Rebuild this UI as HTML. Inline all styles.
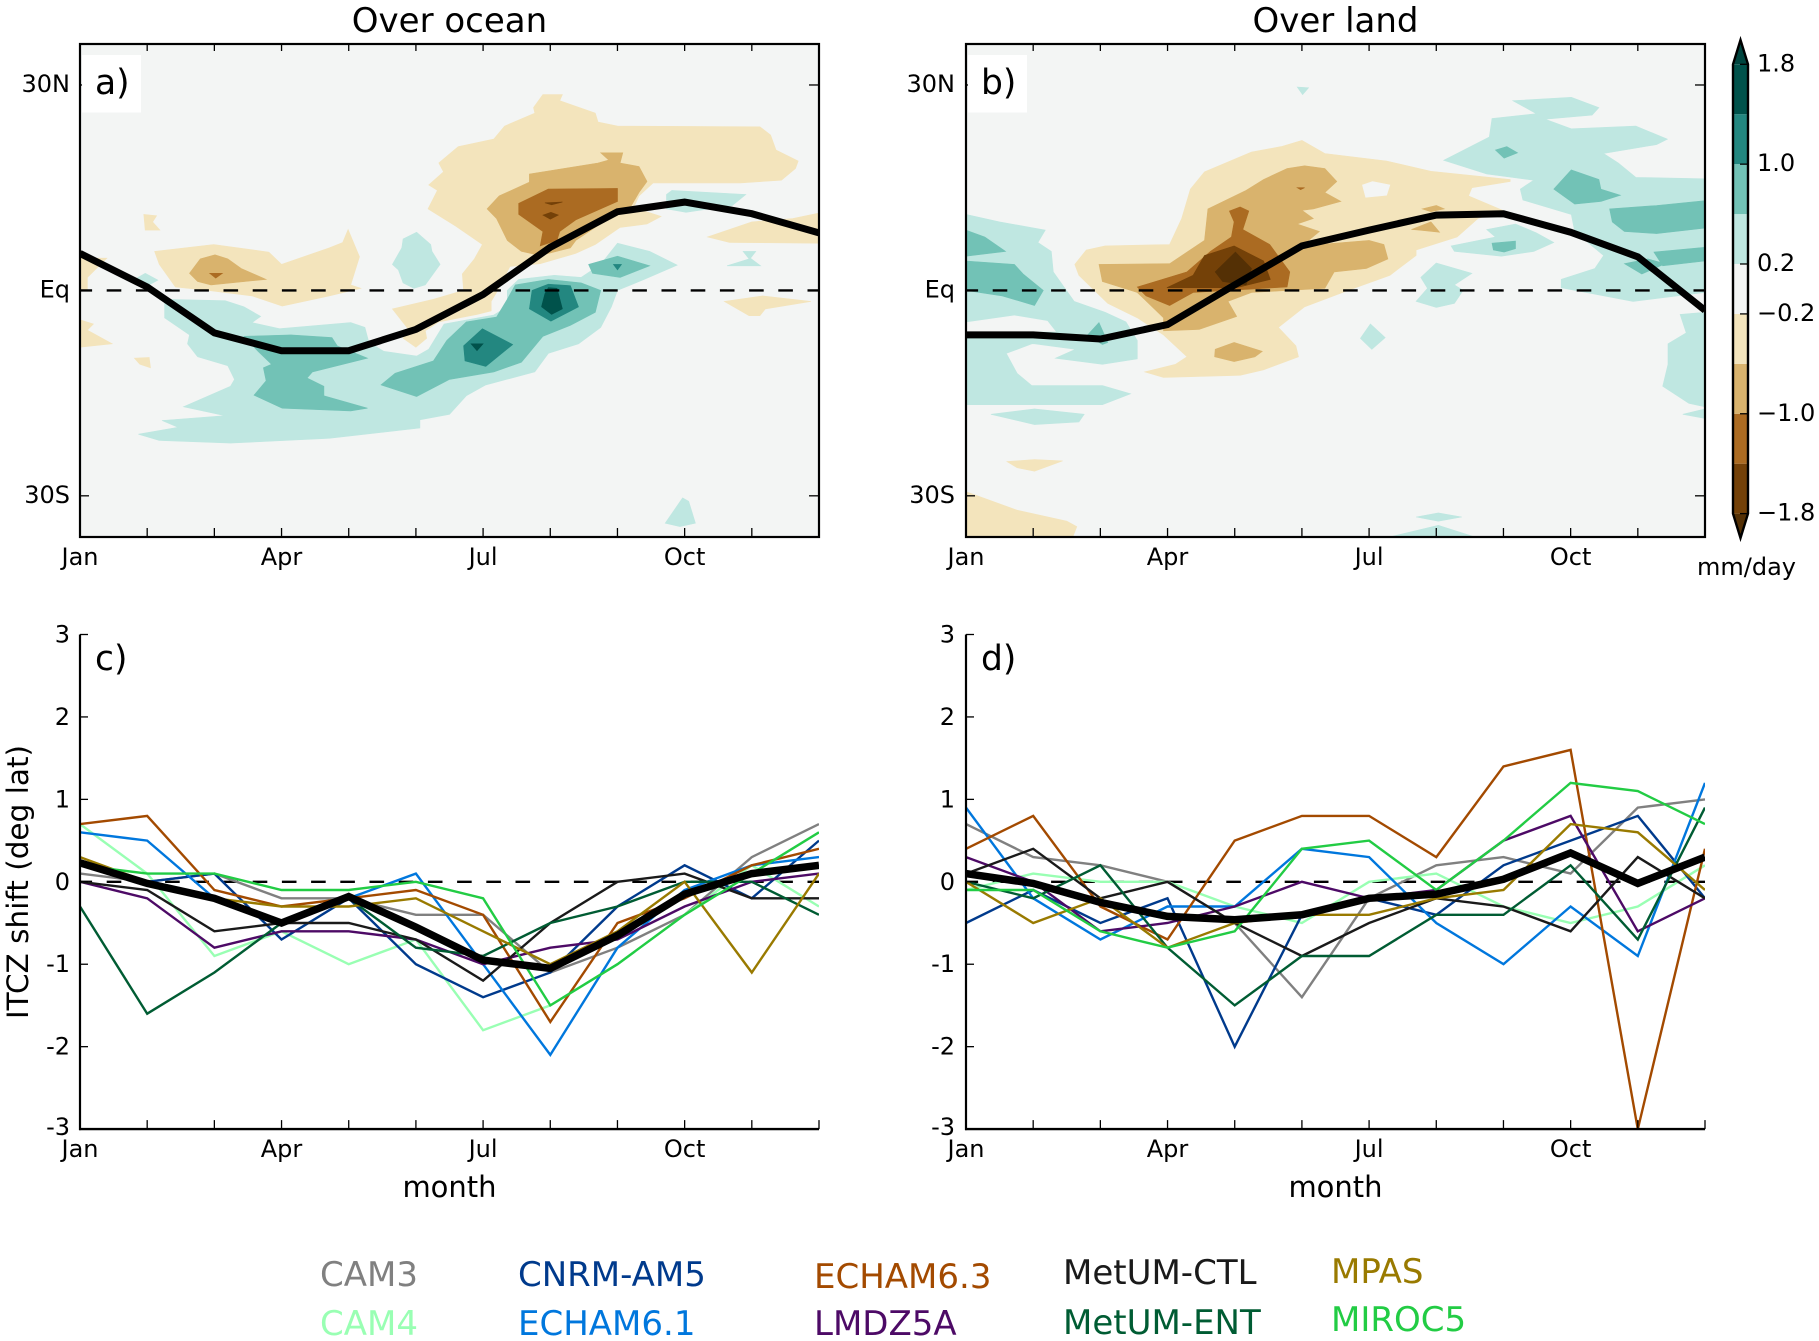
<!DOCTYPE html>
<html lang="en">
<head>
<meta charset="utf-8">
<title>ITCZ shift over ocean and land</title>
<style>
html,body{margin:0;padding:0;background:#fff;}
svg{display:block;}
text{font-family:"DejaVu Sans","Liberation Sans",sans-serif;fill:#000;}
</style>
</head>
<body>
<svg id="fig" xmlns="http://www.w3.org/2000/svg" width="1819" height="1341" viewBox="0 0 1819 1341">
  <rect x="0" y="0" width="1819" height="1341" fill="#ffffff"/>
  <defs>
    <clipPath id="clip-left"><rect x="80" y="44" width="739" height="493"/></clipPath>
    <clipPath id="clip-right"><rect x="966" y="44" width="739" height="493"/></clipPath>
    <clipPath id="clip-c"><rect x="80" y="634" width="739" height="495"/></clipPath>
    <clipPath id="clip-d"><rect x="966" y="634" width="739" height="495"/></clipPath>
  </defs>
  <g id="layer"></g>
  <text x="449.5" y="32" font-size="34" text-anchor="middle">Over ocean</text>
  <text x="1335.5" y="32" font-size="34" text-anchor="middle">Over land</text>
  <text x="449.5" y="1197" font-size="29" text-anchor="middle">month</text>
  <text x="1335.5" y="1197" font-size="29" text-anchor="middle">month</text>
  <text transform="translate(28 882) rotate(-90)" font-size="29.5" text-anchor="middle">ITCZ shift (deg lat)</text>
  <text x="1697" y="575" font-size="24">mm/day</text>

  <g font-size="34">
    <text x="320" y="1286" style="fill:#808080">CAM3</text>
    <text x="320" y="1335" style="fill:#99ffb3">CAM4</text>
    <text x="518" y="1286" style="fill:#003a8c">CNRM-AM5</text>
    <text x="518" y="1335" style="fill:#0077dd">ECHAM6.1</text>
    <text x="814" y="1288" style="fill:#a34a00">ECHAM6.3</text>
    <text x="814" y="1335" style="fill:#4d0a66">LMDZ5A</text>
    <text x="1063" y="1284" style="fill:#1a1a1a">MetUM-CTL</text>
    <text x="1063" y="1334" style="fill:#005c33">MetUM-ENT</text>
    <text x="1331" y="1283" style="fill:#997a00">MPAS</text>
    <text x="1331" y="1331" style="fill:#22cc44">MIROC5</text>
  </g>
</svg>

<script>
// Axis tick data
const monthTicks = [0,1,2,3,4,5,6,7,8,9,10,11];
const monthLabelPos = [0,3,6,9];
const monthLabels = ['Jan','Apr','Jul','Oct'];
const latTicks = [30,0,-30];
const latLabels = ['30N','Eq','30S'];
const shiftTicks = [3,2,1,0,-1,-2,-3];
const shiftLabels = ['3','2','1','0','-1','-2','-3'];

// Colorbar data
const cbarLevels = [-1.8,-1.4,-1.0,-0.6,-0.2,0.2,0.6,1.0,1.4,1.8];
const cbarTicks = [1.8,1.0,0.2,-0.2,-1.0,-1.8];
const cbarLabels = ['1.8','1.0','0.2','\u22120.2','\u22121.0','\u22121.8'];
const cbarColors = ['#744108','#ab6b22','#d9b36d','#f3e4bc','#f3f5f4','#bfe7e1','#72c2b6','#238780','#00524b'];

// Mean ITCZ-latitude curves (deg latitude for each month)
const oceanItcz = [5.4,0.5,-6.2,-8.8,-8.8,-5.7,-0.6,6.3,11.5,12.9,11.2,8.4];
const landItcz = [-6.5,-6.5,-7.1,-5.0,0.8,6.5,8.8,11.0,11.2,8.5,4.9,-2.9];

// Contour bands, each polygon a flat list: month, latitude, month, latitude ...
const oceanBrown1 = [
 [6.89,28.6,7.18,28.6,7.14,27.7,7.67,25.9,7.71,24.6,8.0,24.0,10.12,23.9,10.28,22.7,10.36,20.5,10.69,18.9,10.65,17.8,10.44,16.1,9.83,15.7,8.53,15.7,8.32,13.8,8.24,12.1,8.65,10.8,8.44,9.7,8.04,9.2,7.67,6.7,7.38,5.4,6.85,3.9,6.4,3.5,6.2,-0.3,6.12,-1.6,6.12,-3.0,5.91,-3.5,5.34,-4.6,5.14,-5.9,5.16,-7.0,5.0,-8.3,4.81,-7.0,4.89,-5.7,4.65,-2.7,5.26,-1.3,5.71,0,5.69,2.4,5.87,4.6,5.99,6.7,5.59,9.4,5.18,11.9,5.32,14.6,5.19,15.4,5.41,17.3,5.34,18.6,5.63,21.0,6.16,22.1,6.32,24.0,6.77,25.9,6.75,26.7],
 [1.11,5.7,1.99,6.7,2.81,5.6,3.0,3.8,3.71,6.2,3.91,7.0,3.99,8.9,4.16,4.9,4.03,0.8,4.18,0.3,3.71,-0.8,3.01,-2.3,2.56,-0.8,1.91,0,1.42,0.5,1.18,3.8],
 [0,4.7,0.4,4.7,0.11,1.9,0.11,0,0,0],
 [0,-4.3,0.2,-4.9,0.11,-5.8,0.48,-7.8,0,-8.3],
 [0.95,11.1,1.14,10.9,1.08,10,1.19,8.8,0.97,8.8],
 [0.81,-9.9,1.03,-9.8,1.05,-11.3,0.89,-10.8],
 [11,11.3,10.61,10.5,10,10,9.34,7.8,9.67,7,11,6.9],
 [9.59,-1.6,10.16,-0.8,10.88,-1.6,10.2,-2.7,10.12,-3.7,9.96,-3.7]
];
const oceanBrown2 = [
 [6.69,17,7.71,18.6,7.87,19.05,7.75,20.1,8.08,20.1,8.04,18.6,8.32,18.1,8.44,15.9,8.32,14.3,8.16,11.6,7.99,11.3,7.38,7.3,7.3,6.2,6.85,5.1,6.57,5.7,6.36,7.3,6.2,10.5,6.06,11.9,6.24,13.8,6.69,15.8],
 [1.63,2.5,1.79,4.6,2.01,5.2,2.2,4.6,2.4,3.2,2.77,1.6,1.95,0.8,1.75,1.3]
];
const oceanBrown3 = [
 [6.53,12.7,6.97,14.8,8,14.9,8,13,7.38,10.3,7.14,8.6,7.1,7.3,6.85,6.5,6.89,8.6,6.53,11.1],
 [1.93,2.5,2.12,2.5,2.02,1.8]
];
const oceanBrown4 = [
 [6.92,12.8,7.18,12.9,7.02,12.5],
 [6.89,11,7.01,11.4,7.12,11,7.0,10.4]
];
const oceanTeal1 = [
 [1.26,-1.3,2.16,-1.5,2.44,-2.4,2.69,-3.8,2.56,-4.7,2.97,-5.6,4.03,-4.7,4.24,-5.4,4.3,-7.6,4.52,-8.9,5.01,-9.6,5.19,-8.6,5.42,-4.9,6.16,-3.6,6.36,-2.4,6.36,0,6.53,1.6,7.06,2.2,7.46,1.9,7.75,3.8,8.0,6.9,8.48,5.7,8.89,3.7,8.4,1.6,8.0,0,7.91,-2.4,7.75,-5.4,7.42,-7.8,6.97,-9.2,6.77,-11.9,6.04,-13.8,5.75,-15.4,5.5,-18.1,5.06,-18.9,5.06,-20.1,3.71,-21.6,2.24,-22.3,1.18,-21.9,0.87,-21,1.46,-20,1.22,-19,2.16,-18.3,1.54,-17,2.24,-14,2.3,-13,2.2,-11,1.75,-9.7,1.6,-7.8,1.63,-6.5,1.26,-4],
 [5.01,8.5,5.22,6.7,5.24,5.7,5.36,3.8,5.14,0.8,4.97,0.3,4.81,1.1,4.74,3,4.65,3.8,4.79,6.2,4.81,7.5],
 [0.97,2.5,1.16,1.5,0.95,0.4,0.81,1.6],
 [8.73,14,8.81,14.6,9.91,14,9.71,12.4,9.02,11.4,8.73,11.9],
 [9.87,5.7,10.06,5.7,9.98,4.7,10.13,3.6,9.63,3.6,9.96,4.6],
 [8.97,-30.3,9.06,-30.8,9.16,-34,8.93,-34.5,8.71,-34]
];
const oceanTeal2 = [
 [2.44,-6.7,3.14,-6.5,3.75,-6.9,3.83,-8.1,4.28,-9.9,3.46,-11.9,3.38,-12.8,3.63,-14,3.63,-15.4,4.28,-17.2,4.03,-17.6,3.01,-17.2,2.59,-15.3,2.77,-13.2,2.73,-11.3,2.85,-10.8,2.65,-8.9],
 [4.48,-13.8,4.69,-12.1,5.26,-10.3,5.46,-7.3,5.75,-4.6,6.2,-3.9,6.36,-1.3,6.48,0.8,6.97,1.6,7.46,1.1,7.75,0,7.67,-3.2,7.3,-5.1,6.89,-6.7,6.57,-10.5,6.16,-11.9,5.5,-13,5.01,-15.5],
 [7.57,3.8,8,5,8.48,3.6,8.04,1.9,7.63,2.5]
];
const oceanTeal3 = [
 [5.71,-8.1,5.99,-5.6,6.44,-7.9,6.04,-11.1,5.73,-10.3],
 [6.73,0,6.97,0.9,7.3,0.7,7.42,-2.4,7.01,-4.5,6.69,-2.7],
 [7.94,3.8,8.06,3.8,8,3]
];
const oceanTeal4 = [
 [5.82,-7.8,6.0,-7.8,5.91,-8.8],
 [6.97,0.4,7.1,0.3,7.18,-2.7,7.02,-3.5,6.87,-2.4,6.92,-0.5]
];

const landBrown1 = [
 [5,21.9,5.34,20,6.26,18.9,6.92,17.4,8.1,16.2,8.1,15.9,7.53,15,7.48,13.8,8.01,11.6,7.62,10.5,7.31,7.8,6.7,5.9,6.7,5.1,6.31,2.2,5.69,0,5.04,-2.4,4.65,-5.4,4.91,-8.1,4.95,-9.7,4.43,-11.6,4.08,-12.4,2.94,-12.7,2.66,-11.9,3.12,-10.8,3.29,-9.7,2.94,-6.5,2.55,-4,2.11,-1.9,1.68,2.2,1.62,3.8,1.79,5.9,2.07,6.5,3.03,6.7,3.21,10.5,3.34,14.8,3.55,17.3,4.25,20.2,4.69,21],
 [0,-29.4,0.76,-32.1,1.5,-33.7,1.65,-34.5,1.59,-36,0,-36],
 [0.61,-25,1.02,-24.7,1.44,-24.9,1.02,-26.4,0.76,-25.9]
];
const landBrown2 = [
 [5.04,18.2,5.34,17.8,5.52,15.9,5.34,14.3,5.58,13,5.17,11.9,5,11.7,5.17,10.5,4.93,9.7,5.26,8.6,5,6.5,6,7.3,6.22,6.7,6.28,4.6,5.96,3.2,5.48,2.7,5.34,0.3,4.25,-0.3,3.9,-1.6,4.03,-3.8,3.47,-5.7,2.94,-5.9,2.94,-4,2.55,-0.3,2.03,1.3,1.98,3.8,3.03,3.9,3.55,7.3,3.6,11.9,4.17,14.6,4.43,16.2,4.78,17.8],
 [3.71,-8.6,3.99,-7.6,4.41,-8.9,4.3,-9.7,3.99,-10.4,3.7,-9.7],
 [6.79,11.9,7,12.4,7.12,11.9,6.92,11.5],
 [6.63,8.9,6.92,10,7.05,8.5,6.74,8.8]
];
const landBrown3 = [
 [2.55,0.5,3.29,2.7,3.64,5.7,3.95,7.8,3.99,10,3.92,11.6,4.08,12.2,4.21,11.6,4.12,8.9,4.52,6.7,4.82,2.7,4.78,0.5,3.9,0,3.38,-0.3,3.03,-2.2,2.68,-0.8],
 [4.93,15,5.04,15,4.98,14.7]
];
const landBrown4 = [
 [2.99,0.4,3.38,2.2,3.55,5.1,3.99,6.5,4.43,4.3,4.53,1.6,4.03,0.4]
];
const landBrown5 = [
 [3.71,2.7,4.01,5.6,4.25,3.2,4.17,0.8,3.82,1.3]
];
const landTeal1 = [
 [0,11.1,0.5,10,1.18,8.8,1.07,7,1.27,5.7,1.3,2.7,1.61,-1.6,2.07,-3.2,2.38,-4.6,2.55,-7.3,2.55,-10,2.03,-10.8,1.33,-9.9,1.63,-8.6,1.02,-7.8,0,-7.6],
 [0,-7.3,0.98,-7.8,0.6,-9.2,0.76,-12.1,0.98,-13.9,2.03,-13.9,2.45,-15.1,2.03,-16.7,0,-16.7],
 [0.37,-18.1,1.02,-17.3,1.76,-18.1,1.68,-19.2,1.02,-19.6],
 [8.14,27.7,9.01,28.2,9.42,26.7,9.32,25.6,8.62,25,9.01,23.6,9.97,24,10.44,22.1,10.28,21.3,9.49,20,9.71,18.6,9.97,16.5,11,16.3,11,-0.3,9.93,-1.6,8.86,0.4,8.86,1.6,9.36,3.2,9.49,5.1,9.06,8.6,9.01,11.1,8.29,13.2,8.25,14.8,8.45,16.1,7.75,17,7.11,19,7.79,22.4,7.83,25.1,8.49,25.8],
 [10.63,-3.5,11,-3.2,11,-17,10.76,-16.5,10.37,-14,10.45,-10.8,10.45,-7.8,10.72,-6.2],
 [11,-17.3,10.67,-18.1,11,-18.7],
 [7.75,8.9,8.18,9.7,8.49,8.4,8.75,7,8.45,5.7,7.97,5,7.27,5.7,7.22,6.5,7.88,7.8],
 [7,4,7.53,2.5,7.27,0.8,7.4,0,7.27,-1.9,7,-2.5,6.7,-1.6,6.87,0.3,6.77,1.9],
 [6.02,-4.9,6.24,-6.9,6.04,-8.6,5.87,-7],
 [4.93,29.7,5.1,29.6,5.01,28.6],
 [6.7,-33.1,7.03,-32.5,7.38,-33.1,7.03,-33.7],
 [6.31,-36,7.03,-34.3,7.57,-36]
];
const landNeutral = [
 [5.9,15.4,6.05,15.9,6.31,15.4,6.26,13.9,5.95,13.6],
 [0,-4.7,0.72,-3.7,1.21,-4.5,1.33,-6,0,-6]
];
const landTeal2 = [
 [0,8.8,0.28,7.8,0.59,5.7,0,5],
 [0,4.3,0.72,3.8,0.85,2.4,1.15,0,1.02,-2.2,0.54,-0.8,0,0],
 [1.98,-4.7,2.11,-7.6,2.03,-7.9,1.81,-6.5],
 [9.01,17.6,9.42,16.2,9.45,14.8,9.74,13.9,9.45,13,9.06,12.6,8.75,14.8],
 [9.58,11.9,10.28,12.4,11,13.1,11,9.1,10.28,8.3,9.8,8.6,9.62,10],
 [10.24,5.6,11,6.3,11,4.3,10.37,3.6],
 [9.8,3.9,10.15,4.6,10.41,3.9,10.06,2.4],
 [7.88,20.5,8.05,21,8.21,20.1,8.01,19.3],
 [7.83,6.9,8.18,7.2,8.18,6.1,8.01,5.6,7.85,5.9]
];

// Monthly ITCZ shift by model: panel c (ocean)
const oceanCam3 = [0.1,0,0.1,-0.2,-0.2,-0.4,-0.4,-1.1,-0.8,-0.4,0.3,0.7];
const oceanCam4 = [0.7,0.1,-0.9,-0.6,-1.0,-0.7,-1.8,-1.5,-1.0,-0.4,0.2,-0.3];
const oceanCnrm = [0.2,0,0.1,-0.7,-0.2,-1.0,-1.4,-1.1,-0.3,0.2,-0.2,0.5];
const oceanEcham61 = [0.6,0.5,-0.2,-0.5,-0.2,0.1,-1.0,-2.1,-0.8,-0.1,0.2,0.3];
const oceanEcham63 = [0.7,0.8,-0.1,-0.3,-0.2,-0.1,-0.4,-1.7,-0.5,-0.2,0.2,0.4];
const oceanLmdz = [0,-0.2,-0.8,-0.6,-0.6,-0.7,-1.0,-0.8,-0.7,-0.3,0,0.1];
const oceanCtl = [0,-0.1,-0.6,-0.5,-0.5,-0.7,-1.2,-0.5,0,0.1,-0.2,-0.2];
const oceanEnt = [-0.3,-1.6,-1.1,-0.5,-0.2,-0.8,-0.9,-0.5,-0.3,0,0,-0.4];
const oceanMpas = [0.3,0,-0.2,-0.3,-0.3,-0.2,-0.6,-1.0,-0.6,0,-1.1,0.1];
const oceanMiroc = [0.2,0.1,0.1,-0.1,-0.1,0,-0.2,-1.5,-1.0,-0.4,0.1,0.6];
const oceanMean = [0.23,-0.02,-0.2,-0.5,-0.18,-0.55,-0.95,-1.05,-0.65,-0.15,0.1,0.2];

// Monthly ITCZ shift by model: panel d (land)
const landCam3 = [0.7,0.3,0.2,0,-0.5,-1.4,-0.2,0.2,0.3,0.1,0.9,1.0];
const landCam4 = [-0.1,0.1,0,0,-0.3,-0.5,0,0.1,-0.3,-0.5,-0.3,0.2];
const landCnrm = [-0.5,-0.1,-0.5,-0.2,-2.0,-0.4,-0.2,-0.4,0.2,0.5,0.8,-0.2];
const landEcham61 = [0.9,-0.2,-0.7,-0.3,-0.3,0.4,0.3,-0.5,-1.0,-0.3,-0.9,1.2];
const landEcham63 = [0.4,0.8,-0.3,-0.7,0.5,0.8,0.8,0.3,1.4,1.6,-3.0,0.4];
const landLmdz = [0.3,0,-0.6,-0.5,-0.3,0,-0.2,-0.1,0.5,0.8,-0.6,-0.2];
const landCtl = [0.1,0.4,-0.2,0,-0.5,-0.9,-0.5,-0.2,-0.3,-0.6,0.3,-0.2];
const landEnt = [0,-0.2,0.2,-0.8,-1.5,-0.9,-0.9,-0.4,-0.4,0.2,-0.7,0.9];
const landMpas = [0,-0.5,-0.2,-0.8,-0.5,-0.4,-0.4,-0.2,-0.1,0.7,0.6,-0.1];
const landMiroc = [-0.1,-0.1,-0.6,-0.8,-0.6,0.4,0.5,-0.1,0.5,1.2,1.1,0.7];
const landMean = [0.1,-0.02,-0.25,-0.42,-0.46,-0.4,-0.2,-0.15,0.03,0.35,-0.02,0.3];

const modelNames = ['cam3','cam4','cnrm-am5','echam61','echam63','lmdz5a','metum-ctl','metum-ent','mpas','miroc5'];
const modelColors = ['#808080','#99ffb3','#003a8c','#0077dd','#a34a00','#4d0a66','#1a1a1a','#005c33','#997a00','#22cc44'];
const oceanSeries = [oceanCam3,oceanCam4,oceanCnrm,oceanEcham61,oceanEcham63,oceanLmdz,oceanCtl,oceanEnt,oceanMpas,oceanMiroc];
const landSeries = [landCam3,landCam4,landCnrm,landEcham61,landEcham63,landLmdz,landCtl,landEnt,landMpas,landMiroc];

const SVGNS = 'http://www.w3.org/2000/svg';
const layer = document.getElementById('layer');

function mk(tag, attrs, parent) {
  const el = document.createElementNS(SVGNS, tag);
  for (const k in attrs) el.setAttribute(k, attrs[k]);
  (parent || layer).appendChild(el);
  return el;
}

// Axis functions
const AXIS_W = 739;
function xMonth(x0, m) { return x0 + m * AXIS_W / 11; }
function yLat(lat) { return 290.4 - lat * (493 / 72); }
function yShift(v) { return 881.8 - v * (494.6 / 6); }
function yCbar(v) { return 288.95 - v * (449.3 / 3.6); }

function drawBand(x0, polys, color, label, parent) {
  polys.forEach(function (p) {
    const pts = [];
    for (let i = 0; i < p.length; i += 2) {
      pts.push(xMonth(x0, p[i]).toFixed(1) + ',' + yLat(p[i + 1]).toFixed(1));
    }
    const el = mk('polygon', { points: pts.join(' '), fill: color, stroke: color, 'stroke-width': 0.6 }, parent);
    
    
  });
}

function linePath(x0, values, yFn) {
  return values.map(function (v, i) {
    return (i ? 'L' : 'M') + xMonth(x0, i).toFixed(1) + ' ' + yFn(v).toFixed(1);
  }).join(' ');
}

function addText(x, y, str, size, anchor, name) {
  const t = mk('text', { x: x, y: y, 'font-size': size, 'text-anchor': anchor });
  t.textContent = str;
  
  
  return t;
}

function addTick(x1, y1, x2, y2, name) {
  const l = mk('line', { x1: x1, y1: y1, x2: x2, y2: y2, stroke: '#000', 'stroke-width': 1.3 });
  
  
}

function monthAxisLabels(x0, y, prefix) {
  monthLabelPos.forEach(function (m, i) {
    addText(xMonth(x0, m), y, monthLabels[i], 24, 'middle', prefix + '-month-label-' + monthLabels[i].toLowerCase());
  });
}

function contourPanel(x0, clipId, prefix, letter, bands, itcz, labelRight) {
  const top = 44, bottom = 537;
  const bg = mk('rect', { x: x0, y: top, width: AXIS_W, height: bottom - top, fill: '#f3f5f4' });
  
  

  const g = mk('g', { 'clip-path': 'url(#' + clipId + ')' });
  
  
  bands.forEach(function (b) {
    drawBand(x0, b[0], b[1], prefix + '-contour-' + b[2], g);
  });

  const zero = mk('line', { x1: x0, x2: x0 + AXIS_W, y1: yLat(0), y2: yLat(0), stroke: '#000', 'stroke-width': 2.4, 'stroke-dasharray': '14.6 14.6', 'stroke-dashoffset': 2.5 }, g);
  
  

  const mean = mk('path', { d: linePath(x0, itcz, yLat), fill: 'none', stroke: '#000', 'stroke-width': 7, 'stroke-linejoin': 'miter' }, g);
  
  

  monthTicks.forEach(function (m) {
    const x = xMonth(x0, m);
    addTick(x, top, x, top + 7, prefix + '-top-tick');
    addTick(x, bottom, x, bottom - 9, prefix + '-bottom-tick');
  });
  latTicks.forEach(function (lat, i) {
    const y = yLat(lat);
    addTick(x0, y, x0 + 9, y, prefix + '-left-tick');
    addTick(x0 + AXIS_W, y, x0 + AXIS_W - 10, y, prefix + '-right-tick');
    addText(labelRight, y + 7, latLabels[i], 24, 'end', prefix + '-lat-label-' + latLabels[i].toLowerCase());
  });
  monthAxisLabels(x0, 565, prefix);

  const box = mk('rect', { x: x0 + 2, y: 55, width: 59, height: 57.5, fill: '#ffffff' });
  
  

  const frame = mk('rect', { x: x0, y: top, width: AXIS_W, height: bottom - top, fill: 'none', stroke: '#000', 'stroke-width': 2.2 });
  
  

  addText(x0 + 15, 94, letter, 34.5, 'start', prefix + '-panel-letter');
}

function linesPanel(x0, clipId, prefix, letter, series, mean, labelRight) {
  const g = mk('g', { 'clip-path': 'url(#' + clipId + ')' });
  
  

  const zero = mk('line', { x1: x0, x2: x0 + AXIS_W, y1: yShift(0), y2: yShift(0), stroke: '#000', 'stroke-width': 2.4, 'stroke-dasharray': '14.6 14.6', 'stroke-dashoffset': 2.5 }, g);
  
  

  series.forEach(function (vals, i) {
    const p = mk('path', { d: linePath(x0, vals, yShift), fill: 'none', stroke: modelColors[i], 'stroke-width': 2.4, 'stroke-linejoin': 'miter' }, g);
    
    
  });

  const m = mk('path', { d: linePath(x0, mean, yShift), fill: 'none', stroke: '#000', 'stroke-width': 7.5, 'stroke-linejoin': 'miter' }, g);
  
  

  const yTop = yShift(3), yBot = yShift(-3);
  monthTicks.forEach(function (mo) {
    const x = xMonth(x0, mo);
    addTick(x, yBot, x, yBot - 9, prefix + '-bottom-tick');
  });
  shiftTicks.forEach(function (v, i) {
    const y = yShift(v);
    addTick(x0, y, x0 + 8, y, prefix + '-left-tick');
    addText(labelRight, y + (v === -3 ? 6 : 8), shiftLabels[i], 24, 'end', prefix + '-y-label');
  });
  monthAxisLabels(x0, 1157, prefix);

  const ls = mk('line', { x1: x0, x2: x0, y1: yTop, y2: yBot + 1, stroke: '#000', 'stroke-width': 2.2 });
  
  
  const bs = mk('line', { x1: x0 - 1, x2: x0 + AXIS_W, y1: yBot, y2: yBot, stroke: '#000', 'stroke-width': 2.4 });
  
  

  addText(x0 + 15, 670, letter, 34.5, 'start', prefix + '-panel-letter');
}

function colorbar() {
  const xL = 1733, xR = 1748, xC = 1740.5;
  const yT = yCbar(1.8), yB = yCbar(-1.8);
  const g = mk('g', {});
  
  

  const tipTop = mk('polygon', { points: xL + ',' + yT + ' ' + xC + ',40 ' + xR + ',' + yT, fill: '#00453f' }, g);
  
  
  const tipBot = mk('polygon', { points: xL + ',' + yB + ' ' + xC + ',538 ' + xR + ',' + yB, fill: '#543005' }, g);
  
  

  cbarColors.forEach(function (c, i) {
    const yHi = yCbar(cbarLevels[i + 1]), yLo = yCbar(cbarLevels[i]);
    const r = mk('rect', { x: xL, y: yHi, width: xR - xL, height: yLo - yHi, fill: c }, g);
    
    
  });

  const outline = mk('polygon', { points: [xL, yT, xC, 40, xR, yT, xR, yB, xC, 538, xL, yB].join(' '), fill: 'none', stroke: '#000', 'stroke-width': 2.4 }, g);
  
  

  cbarTicks.forEach(function (v, i) {
    const y = yCbar(v);
    addTick(xR, y, xR - 8, y, 'colorbar-tick');
    addText(1757, y + 7, cbarLabels[i], 24, 'start', 'colorbar-label');
  });
}

const oceanBands = [
  [oceanBrown1, cbarColors[3], 'dry-1'],
  [oceanTeal1, cbarColors[5], 'wet-1'],
  [oceanBrown2, cbarColors[2], 'dry-2'],
  [oceanTeal2, cbarColors[6], 'wet-2'],
  [oceanBrown3, cbarColors[1], 'dry-3'],
  [oceanTeal3, cbarColors[7], 'wet-3'],
  [oceanBrown4, cbarColors[0], 'dry-4'],
  [oceanTeal4, cbarColors[8], 'wet-4']
];
const landBands = [
  [landBrown1, cbarColors[3], 'dry-1'],
  [landTeal1, cbarColors[5], 'wet-1'],
  [landNeutral, cbarColors[4], 'neutral'],
  [landBrown2, cbarColors[2], 'dry-2'],
  [landTeal2, cbarColors[6], 'wet-2'],
  [landBrown3, cbarColors[1], 'dry-3'],
  [landBrown4, cbarColors[0], 'dry-4'],
  [landBrown5, '#543005', 'dry-5']
];

contourPanel(80, 'clip-left', 'panel-a', 'a)', oceanBands, oceanItcz, 70);
contourPanel(966, 'clip-right', 'panel-b', 'b)', landBands, landItcz, 955);
linesPanel(80, 'clip-c', 'panel-c', 'c)', oceanSeries, oceanMean, 70);
linesPanel(966, 'clip-d', 'panel-d', 'd)', landSeries, landMean, 955);
colorbar();
</script>
</body>
</html>
